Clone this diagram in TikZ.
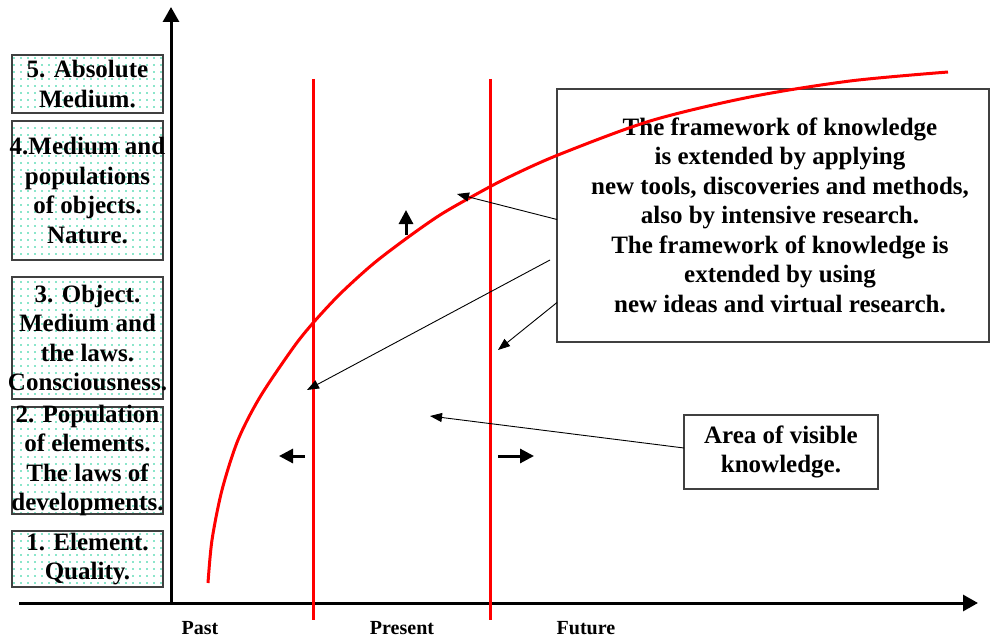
\documentclass[tikz,border=0pt]{standalone}
\usepackage{fontspec}
\setmainfont{Liberation Serif}
\usetikzlibrary{positioning, arrows.meta, patterns.meta}
\definecolor{dotgreen}{RGB}{20,205,150}
\definecolor{framegray}{RGB}{64,64,64}

\tikzstyle{levelbox} = [draw = framegray, line width = 1.5pt, pattern = {Dots[distance = 7pt, radius = 0.85pt]}, pattern color = dotgreen, minimum width = 151pt, inner sep = 0pt, outer sep = 0pt]
\tikzstyle{boxtext} = [align = center, inner sep = 0pt, font = \bfseries\fontsize{25}{29.5}\selectfont]
\tikzstyle{notebox} = [draw = framegray, line width = 1.5pt, inner sep = 0pt, outer sep = 0pt, anchor = north west]
\tikzstyle{axis} = [line width = 3pt, -{Triangle[length = 15pt, width = 16pt]}]
\tikzstyle{redline} = [red, line width = 3pt]
\tikzstyle{pointer} = [line width = 0.9pt, -{Triangle[length = 12pt, width = 9pt]}]
\tikzstyle{trend} = [line width = 3pt, -{Triangle[length = 14pt, width = 14pt]}]
\tikzstyle{timelabel} = [font = \bfseries\fontsize{20}{24}\selectfont]

\begin{document}
\begin{tikzpicture}[x = 1pt, y = -1pt, node distance = 8pt]
\useasboundingbox (0,0) rectangle (990,639);

% levels of knowledge
\node[levelbox, minimum height = 58pt, anchor = north west] (L5) at (12,55) {};
\node[levelbox, minimum height = 139pt, below = 8pt of L5] (L4) {};
\node[levelbox, minimum height = 122pt, below = 17pt of L4] (L3) {};
\node[levelbox, minimum height = 107pt, below = 8pt of L3] (L2) {};
\node[levelbox, minimum height = 56pt, below = 17pt of L2] (L1) {};
\node[boxtext] (T5) at (L5) {5. Absolute\\Medium.};
\node[boxtext] (T4) at (L4) {4.Medium and\\populations\\of objects.\\Nature.};
\node[boxtext] (T3) at (L3) {3. Object.\\Medium and\\the laws.\\Consciousness.};
\node[boxtext] (T2) at (L2) {2. Population\\of elements.\\The laws of\\developments.};
\node[boxtext] (T1) at (L1) {1. Element.\\Quality.};

% axes
\coordinate (O) at (171,603);
\coordinate (ytop) at (171,7);
\coordinate (xstart) at (19,603);
\coordinate (xend) at (978,603);
\draw[axis] (xstart) -- (xend);
\draw[axis] (O) -- (ytop);
\node[timelabel] (past) at (200,628) {Past};
\node[timelabel] (present) at (402,628) {Present};
\node[timelabel] (future) at (586,628) {Future};

% present borders
\draw[redline] (313,79) -- (313,620);
\draw[redline] (490,79) -- (490,620);

% notes
\node[notebox, minimum width = 432pt, minimum height = 253pt] (frame) at (557,89) {};
\node[boxtext] (frametext) at (780,215) {The framework of knowledge\\is extended by applying\\new tools, discoveries and methods,\\also by intensive research.\\The framework of knowledge is\\extended by using\\new ideas and virtual research.};
\node[notebox, minimum width = 194pt, minimum height = 74pt] (area) at (684,415) {};
\node[boxtext] (areatext) at (area) {Area of visible\\knowledge.};

% knowledge curve
\draw[redline] plot[smooth, tension = 0.5] coordinates {(208,583) (212,540) (222,490) (238,440) (260,397) (293,348) (313,323) (340,294) (373,264) (407,238) (440,215) (473,196) (507,178) (558,155) (650,121) (750,97) (850,81) (948,72)};

% pointers
\coordinate (t1) at (457,194);
\coordinate (f2) at (550,260);
\coordinate (t2) at (307,390);
\coordinate (t3) at (498,350);
\coordinate (t4) at (430,416);
\draw[pointer] ([yshift = -4pt]frame.west) -- (t1);
\draw[pointer] (f2) -- (t2);
\draw[pointer] ([yshift = -87pt]frame.west) -- (t3);
\draw[pointer] ([yshift = 4pt]area.west) -- (t4);

% directions of growth
\draw[trend] (406,235) -- (406,210);
\draw[trend] (305,456) -- (279,456);
\draw[trend] (498,456) -- (534,456);
\end{tikzpicture}
\end{document}
